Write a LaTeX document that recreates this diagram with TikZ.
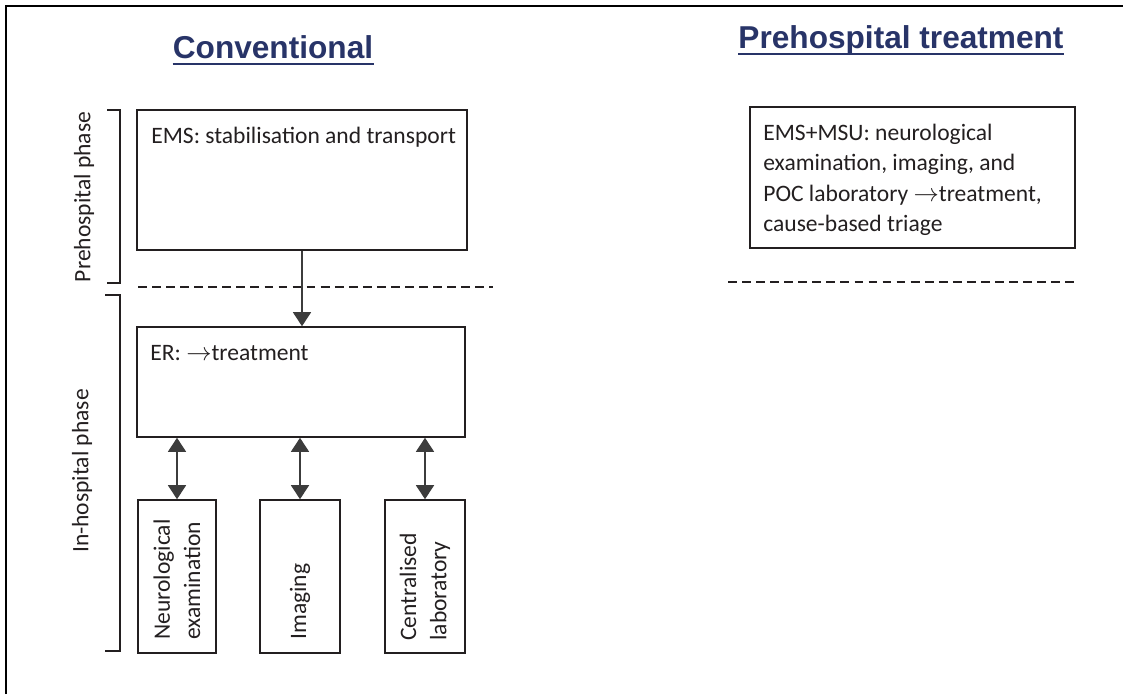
\documentclass[tikz,border=0pt]{standalone}
\usepackage{fontspec}
\setmainfont{Carlito}
\newfontfamily\headfont{Liberation Sans}
\usetikzlibrary{arrows.meta}
\definecolor{headblue}{RGB}{40,52,104}
\definecolor{ink}{RGB}{35,31,32}
\definecolor{arrowgrey}{RGB}{60,60,60}
\newcommand{\toarrow}{$\rightarrow$}
\tikzset{
  head/.style={font=\headfont\bfseries\fontsize{18}{20}\selectfont, text=headblue, inner sep=0pt},
  txt/.style={font=\fontsize{13.4}{17.2}\selectfont, text=ink, inner sep=0pt},
  box/.style={draw=ink, line width=0.9pt},
  phaseline/.style={ink, line width=0.9pt},
  divider/.style={ink, line width=0.9pt, dashed, dash pattern=on 5pt off 3pt},
  >={Triangle[width=0.36cm,length=0.28cm]}
}
\begin{document}
\begin{tikzpicture}[x=0.02cm,y=-0.02cm]
      \useasboundingbox (0,0) rectangle (1123,694);
      % frame
      \draw[black, line width=1.4pt] (6,694) -- (6,6) -- (1123,6);
      % titles
      \node[head, anchor=base] (conv) at (273,58) {Conventional};
      \node[head, anchor=base] (pre) at (901,48) {Prehospital treatment};
      \draw[headblue, line width=1.6pt] ([yshift=-3.4pt]conv.base west) -- ([yshift=-3.4pt]conv.base east);
      \draw[headblue, line width=1.6pt] ([yshift=-3.4pt]pre.base west) -- ([yshift=-3.4pt]pre.base east);
      % conventional
      \node[box, minimum width=6.6cm, minimum height=2.8cm] (ems) at (302,180) {};
      \node[txt, anchor=base west] (emstext) at (151,143) {EMS: stabilisation and transport};
      \node[box, minimum width=6.56cm, minimum height=2.2cm] (er) at (301,382) {};
      \node[txt, anchor=base west] (ertext) at (150,360) {ER: \toarrow treatment};
      \node[box, minimum width=1.56cm, minimum height=3.06cm] (neuro) at (177,576.5) {};
      \node[box, minimum width=1.6cm, minimum height=3.06cm] (img) at (300,576.5) {};
      \node[box, minimum width=1.6cm, minimum height=3.06cm] (lab) at (425,576.5) {};
      \node[txt, rotate=90, anchor=west, align=left] (neurotext) at (177,640) {Neurological\\examination};
      \node[txt, rotate=90, anchor=west, align=left] (imgtext) at (300,640) {Imaging};
      \node[txt, rotate=90, anchor=west, align=left] (labtext) at (425,641) {Centralised\\laboratory};
      % prehospital treatment
      \node[box, minimum width=6.5cm, minimum height=2.82cm] (msu) at (912.5,177.5) {};
      \node[txt, anchor=north west, align=left] (msutext) at (763,124) {EMS+MSU: neurological\\examination, imaging, and\\POC laboratory \toarrow treatment,\\cause-based triage};
      % phases
      \coordinate (cl) at (138,287);
      \coordinate (cr) at (493,287);
      \coordinate (pl) at (728,282);
      \coordinate (pr) at (1078,282);
      \draw[divider] (cl) -- (cr);
      \draw[divider] (pl) -- (pr);
      \draw[phaseline] (107,110) -- (120,110) -- (120,283) -- (107,283);
      \draw[phaseline] (105,295) -- (120,295) -- (120,651) -- (105,651);
      \node[txt, rotate=90] (prephase) at (84,197) {Prehospital phase};
      \node[txt, rotate=90] (inphase) at (82,471) {In-hospital phase};
      \begin{scope}[arrowgrey, line width=0.8pt]
        \draw[->] (ems.south) -- (ems.south |- er.north);
        \draw[<->] (neuro.north |- er.south) -- (neuro.north);
        \draw[<->] (img.north |- er.south) -- (img.north);
        \draw[<->] (lab.north |- er.south) -- (lab.north);
      \end{scope}
    \end{tikzpicture}
\end{document}
